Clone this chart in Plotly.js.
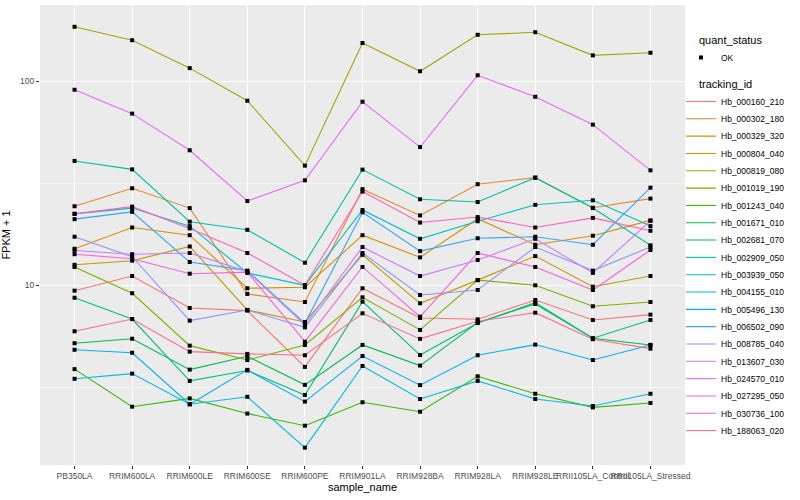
<!DOCTYPE html>
<html>
<head>
<meta charset="utf-8">
<script src="https://cdn.plot.ly/plotly-3.0.1.min.js"></script>
<style>
  html, body { margin: 0; padding: 0; background: #ffffff; overflow: hidden; }
  #chart { width: 800px; height: 500px; }
</style>
</head>
<body>
<div id="chart"></div>
<script>
// ---- data (FPKM + 1) ----
const samples = ["PB350LA", "RRIM600LA", "RRIM600LE", "RRIM600SE", "RRIM600PE", "RRIM901LA",
                 "RRIM928BA", "RRIM928LA", "RRIM928LE", "RRII105LA_Control", "RRII105LA_Stressed"];

const trackingIds = ["Hb_000160_210", "Hb_000302_180", "Hb_000329_320", "Hb_000804_040", "Hb_000819_080",
                     "Hb_001019_190", "Hb_001243_040", "Hb_001671_010", "Hb_002681_070", "Hb_002909_050",
                     "Hb_003939_050", "Hb_004155_010", "Hb_005496_130", "Hb_006502_090", "Hb_008785_040",
                     "Hb_013607_030", "Hb_024570_010", "Hb_027295_050", "Hb_030736_100", "Hb_188063_020"];

const Hb_000160_210 = [9.41, 11.1, 7.74, 7.51, 3.98, 9.67, 6.91, 6.81, 8.47, 6.76, 7.18];
const Hb_000302_180 = [24.4, 29.9, 23.9, 9.07, 8.28, 29.6, 22.0, 31.3, 33.7, 24.0, 26.6];
const Hb_000329_320 = [15.1, 19.2, 17.6, 9.67, 9.78, 17.6, 13.7, 21.2, 15.8, 17.5, 20.8];
const Hb_000804_040 = [12.6, 13.2, 15.5, 7.57, 6.61, 14.1, 8.16, 10.6, 13.9, 9.84, 11.1];
const Hb_000819_080 = [185, 159, 116, 80.3, 38.6, 154, 112, 169, 174, 134, 138];
const Hb_001019_190 = [12.3, 9.14, 5.06, 4.30, 5.10, 8.73, 6.04, 10.6, 10.0, 7.89, 8.28];
const Hb_001243_040 = [3.88, 2.54, 2.79, 2.35, 2.05, 2.67, 2.40, 3.58, 2.94, 2.52, 2.65];
const Hb_001671_010 = [5.20, 5.47, 3.86, 4.49, 3.25, 5.10, 4.04, 6.56, 8.10, 5.50, 5.10];
const Hb_002681_070 = [8.69, 6.83, 3.40, 3.82, 2.90, 8.31, 4.55, 6.53, 8.22, 5.50, 6.76];
const Hb_002909_050 = [40.7, 37.0, 20.5, 18.7, 12.9, 36.9, 26.4, 25.6, 33.7, 23.9, 15.7];
const Hb_003939_050 = [22.4, 23.9, 19.5, 11.5, 10.0, 23.4, 16.9, 20.6, 24.8, 26.1, 19.5];
const Hb_004155_010 = [3.48, 3.69, 2.61, 2.84, 1.60, 4.02, 2.77, 3.40, 2.77, 2.56, 2.94];
const Hb_005496_130 = [4.83, 4.67, 2.61, 3.85, 2.69, 4.50, 3.24, 4.54, 5.12, 4.30, 5.10];
const Hb_006502_090 = [21.1, 22.9, 13.0, 11.8, 6.51, 22.8, 14.7, 17.0, 17.3, 15.8, 30.1];
const Hb_008785_040 = [17.3, 13.8, 6.71, 7.57, 6.22, 14.4, 8.96, 9.48, 15.4, 11.8, 15.4];
const Hb_013607_030 = [14.8, 14.2, 14.4, 11.7, 6.39, 15.4, 11.1, 13.3, 16.9, 11.5, 20.7];
const Hb_024570_010 = [90.9, 69.4, 45.9, 25.9, 32.7, 79.4, 47.6, 107, 84.0, 61.3, 36.6];
const Hb_027295_050 = [14.2, 13.5, 11.4, 11.6, 5.29, 12.3, 7.02, 14.4, 12.3, 9.48, 14.9];
const Hb_030736_100 = [22.4, 24.3, 19.0, 14.4, 10.0, 28.8, 20.3, 21.6, 19.2, 21.4, 18.5];
const Hb_188063_020 = [5.95, 6.83, 4.73, 4.61, 4.54, 7.29, 5.46, 6.66, 7.34, 5.44, 4.89];

const seriesValues = [Hb_000160_210, Hb_000302_180, Hb_000329_320, Hb_000804_040, Hb_000819_080,
                      Hb_001019_190, Hb_001243_040, Hb_001671_010, Hb_002681_070, Hb_002909_050,
                      Hb_003939_050, Hb_004155_010, Hb_005496_130, Hb_006502_090, Hb_008785_040,
                      Hb_013607_030, Hb_024570_010, Hb_027295_050, Hb_030736_100, Hb_188063_020];

const quantStatus = "OK";
const yTickVals = [10, 100];
const yTickText = ["10", "100"];
const yMinorVals = [3.1623, 31.623];

// ---- styles / layout constants ----
const palette = ["#F8766D", "#EA8331", "#D89000", "#C09B00", "#A3A500", "#7CAE00", "#39B600", "#00BB4E",
                 "#00BF7D", "#00C1A3", "#00BFC4", "#00BAE0", "#00B0F6", "#35A2FF", "#9590FF", "#C77CFF",
                 "#E76BF3", "#FA62DB", "#FF62BC", "#FF6C91"];
const FONT = "Liberation Sans, Arial, Helvetica, sans-serif";
const W = 800, H = 500, M = { l: 40, r: 115, t: 5, b: 35 };
const plotH = H - M.t - M.b;
const pxToPaperY = py => (H - M.b - py) / plotH;
const LEGEND_X = 0.9938;
const FIRST_KEY_Y = 101, KEY_STEP = 17.32, KEY_TOP_OFFSET = 14;

const traces = trackingIds.map((id, i) => ({
  type: "scatter",
  mode: "lines",
  name: id,
  x: samples,
  y: seriesValues[i],
  line: { color: palette[i], width: 1.1 },
  legend: "legend" + (i + 3)
}));

// all points in one black marker trace, drawn over the lines
const px = [], py = [];
seriesValues.forEach(vals => vals.forEach((v, j) => { px.push(samples[j]); py.push(v); }));
traces.push({
  type: "scatter",
  mode: "markers",
  name: quantStatus,
  x: px,
  y: py,
  marker: { color: "#000000", size: 4, symbol: "square" },
  legend: "legend2"
});

const legendBase = {
  xanchor: "left", yanchor: "top",
  bgcolor: "rgba(0,0,0,0)",
  itemwidth: 30,
  font: { family: FONT, size: 8.5, color: "#000000" }
};

const layout = {
  width: W,
  height: H,
  margin: { l: M.l, r: M.r, t: M.t, b: M.b, autoexpand: false },
  paper_bgcolor: "#ffffff",
  plot_bgcolor: "#EBEBEB",
  font: { family: FONT, color: "#000000", size: 9 },
  showlegend: true,
  xaxis: {
    type: "category",
    categoryorder: "array",
    categoryarray: samples,
    range: [-0.6, samples.length - 0.4],
    tickangle: 0,
    showgrid: true,
    gridcolor: "#FFFFFF",
    gridwidth: 1.1,
    zeroline: false,
    showline: false,
    ticks: "outside",
    ticklen: 3,
    tickwidth: 1,
    tickcolor: "#333333",
    tickfont: { family: FONT, size: 8.5, color: "#4D4D4D" },
    title: { text: "sample_name", font: { family: FONT, size: 11, color: "#000000" }, standoff: 3 }
  },
  yaxis: {
    type: "log",
    range: [0.119, 2.374],
    tickmode: "array",
    tickvals: yTickVals,
    ticktext: yTickText,
    showgrid: true,
    gridcolor: "#FFFFFF",
    gridwidth: 1.1,
    minor: { tickmode: "array", tickvals: yMinorVals, showgrid: true, gridcolor: "#FFFFFF", gridwidth: 0.5, ticklen: 0 },
    zeroline: false,
    showline: false,
    ticks: "outside",
    ticklen: 3,
    tickwidth: 1,
    tickcolor: "#333333",
    tickfont: { family: FONT, size: 8.5, color: "#4D4D4D" },
    title: { text: "FPKM + 1", font: { family: FONT, size: 11, color: "#000000" }, standoff: 8 }
  },
  legend2: Object.assign({}, legendBase, { x: LEGEND_X, y: pxToPaperY(57 - KEY_TOP_OFFSET) }),
  annotations: [
    { xref: "paper", yref: "paper", x: 1.0186, y: pxToPaperY(40), xanchor: "left", yanchor: "middle",
      text: "quant_status", showarrow: false, font: { family: FONT, size: 11, color: "#000000" } },
    { xref: "paper", yref: "paper", x: 1.0186, y: pxToPaperY(84), xanchor: "left", yanchor: "middle",
      text: "tracking_id", showarrow: false, font: { family: FONT, size: 11, color: "#000000" } }
  ]
};

// one single-entry legend per tracking_id, stacked with the reference's key spacing
trackingIds.forEach((id, i) => {
  layout["legend" + (i + 3)] = Object.assign({}, legendBase, {
    x: LEGEND_X,
    y: pxToPaperY(FIRST_KEY_Y + i * KEY_STEP - KEY_TOP_OFFSET)
  });
});

Plotly.newPlot("chart", traces, layout, { staticPlot: true, displayModeBar: false });
</script>
</body>
</html>
